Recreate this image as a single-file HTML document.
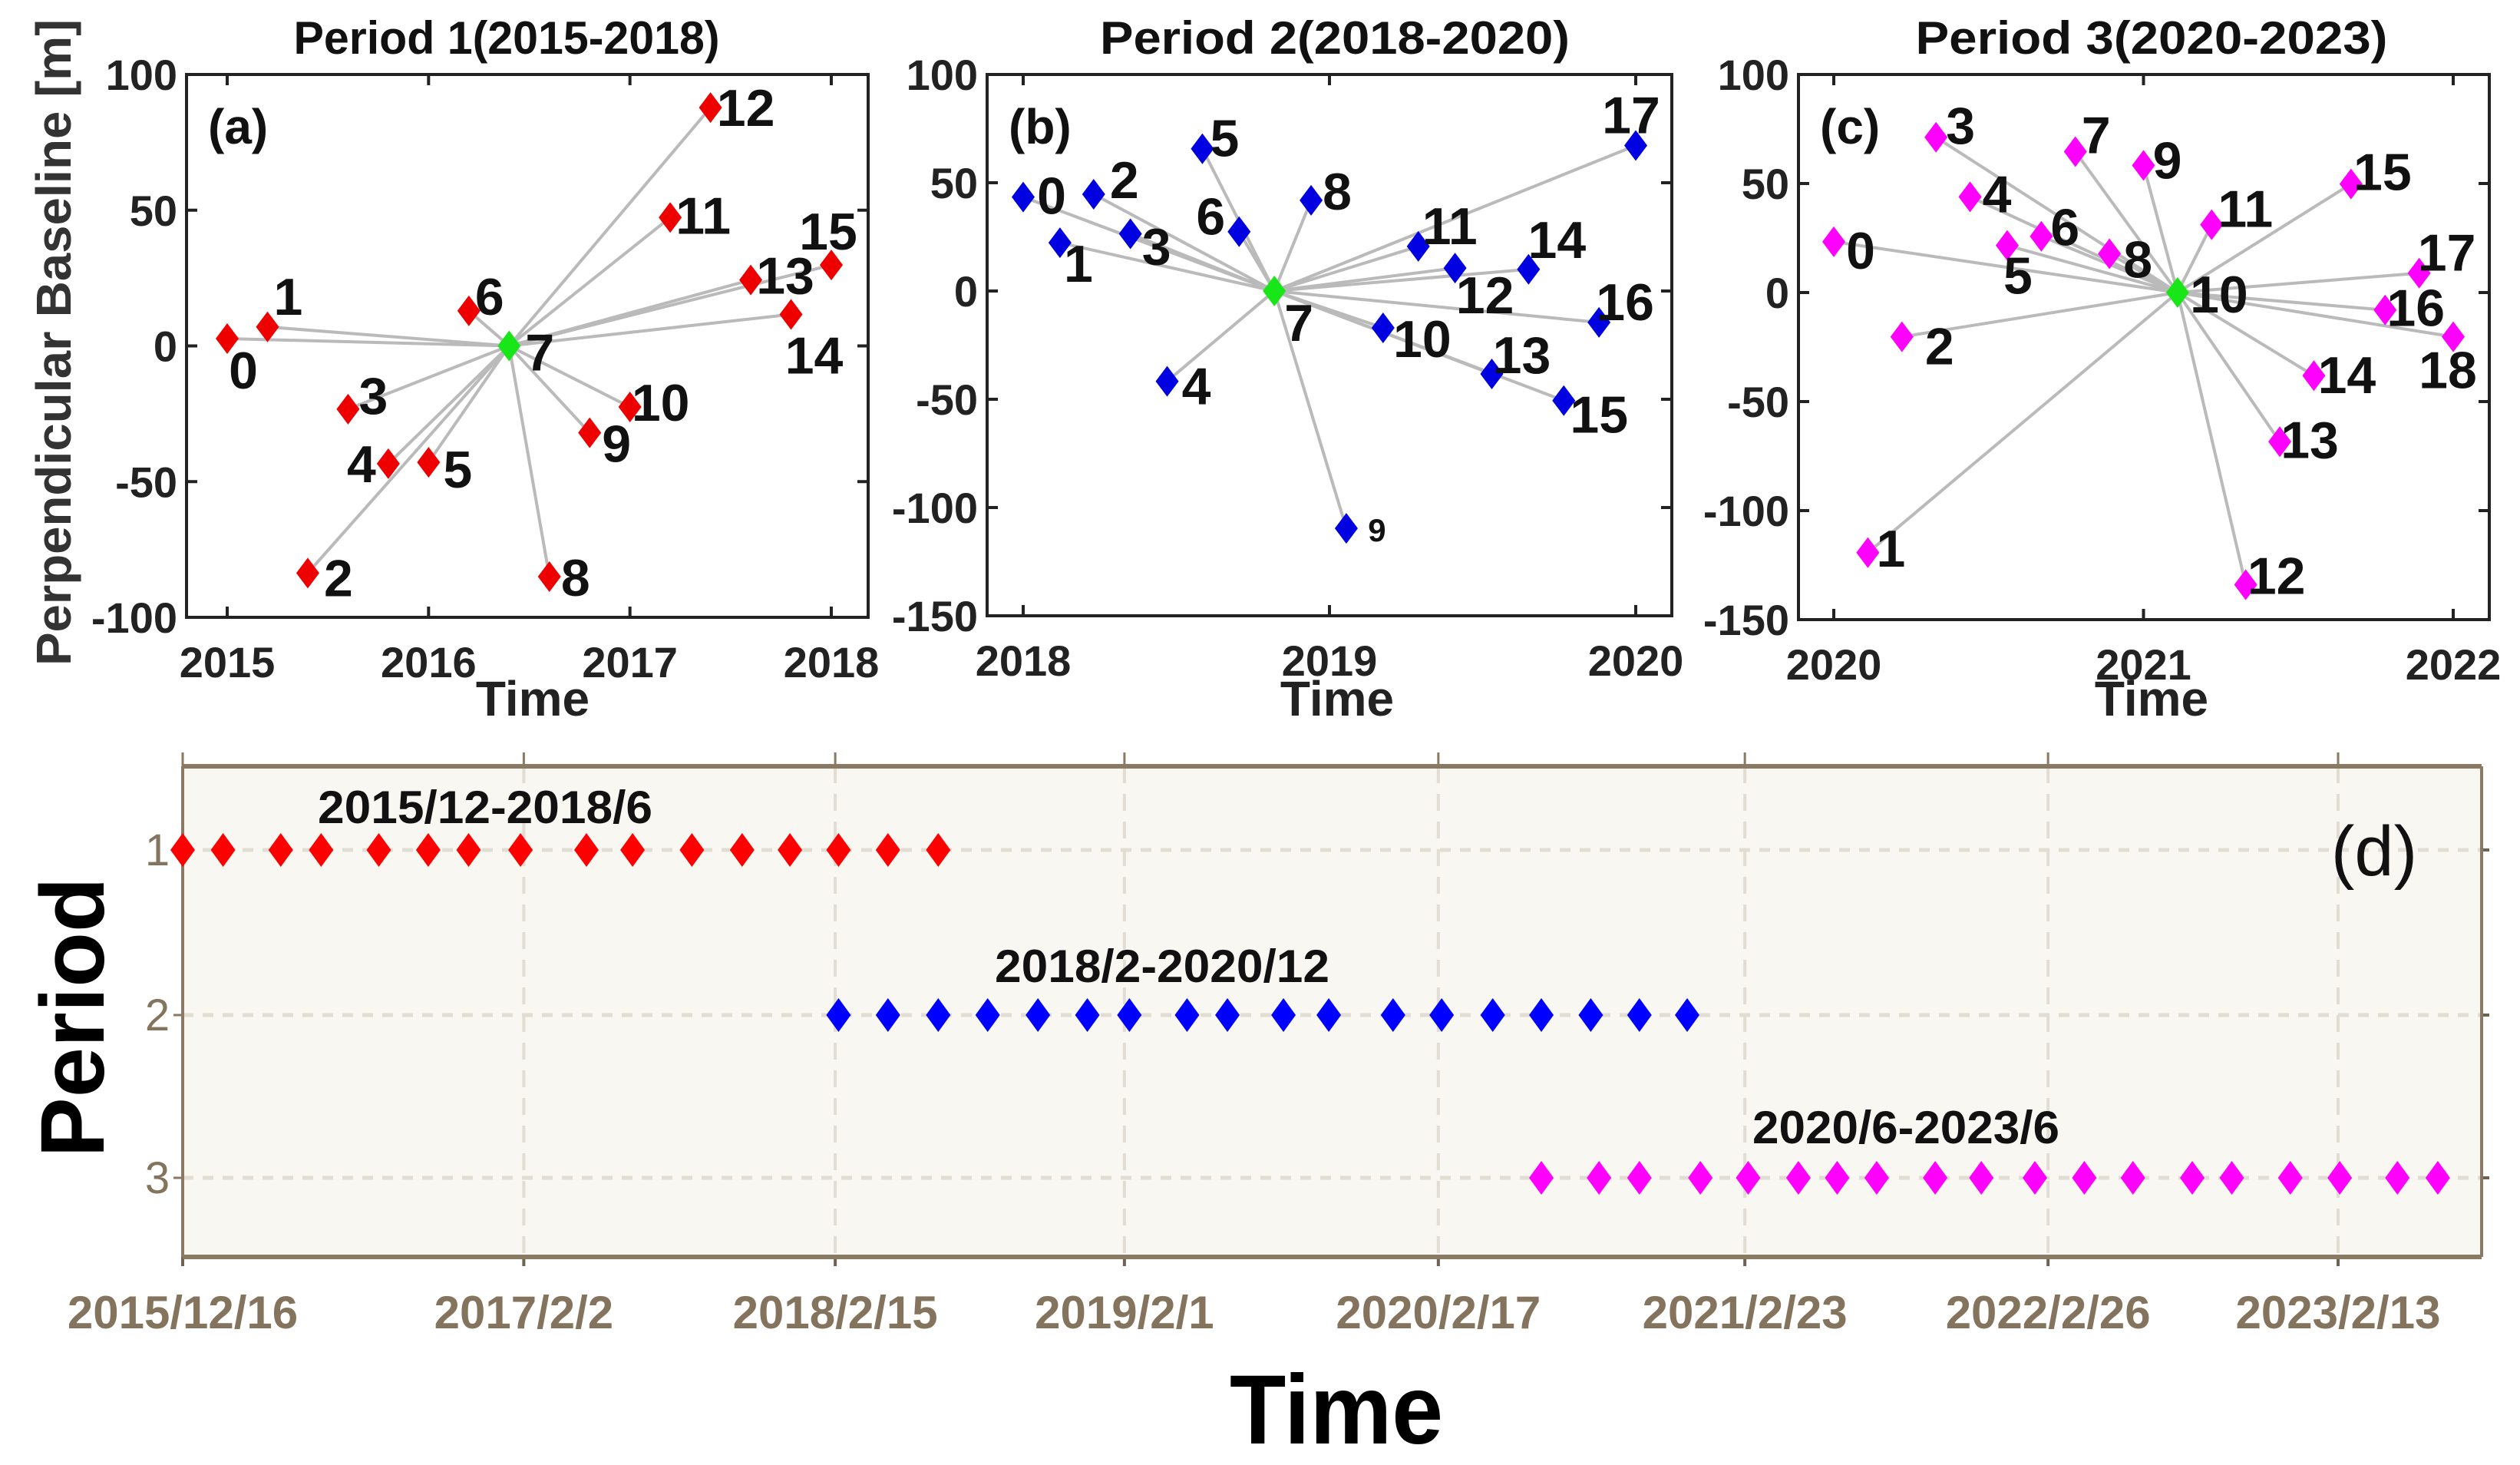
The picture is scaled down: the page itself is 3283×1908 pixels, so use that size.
<!DOCTYPE html>
<html><head><meta charset="utf-8">
<style>
html,body{margin:0;padding:0;background:#fff;}
svg{display:block;font-family:"Liberation Sans",Arial,sans-serif;}
</style></head>
<body>
<svg id="chart" width="3283" height="1908" viewBox="0 0 3283 1908" xmlns="http://www.w3.org/2000/svg"></svg>
<script>
// ---------- Panel (a) data ----------
const aYears = [2015.0,2015.2,2015.4,2015.6,2015.8,2016.0,2016.2,2016.4,2016.6,2016.8,2017.0,2017.2,2017.4,2017.6,2017.8,2018.0];
const aBaselines = [2.7,7,-83.7,-23.3,-43.4,-42.9,12.9,0,-85,-32,-22.5,47.3,87.8,24.3,11.6,29.8];
const aMaster = 7;
// ---------- Panel (b) data ----------
const bYears = [2018.0,2018.12,2018.23,2018.35,2018.47,2018.585,2018.705,2018.82,2018.94,2019.055,2019.175,2019.29,2019.41,2019.53,2019.65,2019.765,2019.88,2020.0];
const bBaselines = [43.4,22.3,44.7,26.4,-41.7,65.7,27.4,0,41.9,-109.6,-17,20.6,10.6,-38.3,10,-50.6,-14.5,67.2];
const bMaster = 7;
// ---------- Panel (c) data ----------
const cYears = [2020.0,2020.11,2020.22,2020.33,2020.44,2020.56,2020.67,2020.78,2020.89,2021.0,2021.11,2021.22,2021.33,2021.44,2021.55,2021.67,2021.78,2021.89,2022.0];
const cBaselines = [23.3,-119.3,-20.3,71.2,43.9,21.6,25.8,64.6,17.8,58.3,0,31.1,-134,-68.4,-38.1,49.8,-8,8.9,-20.3];
const cMaster = 10;
// ---------- Panel (d) data ----------
const dStartDate = "2015-12-16";
const dTickLabels = ["2015/12/16","2017/2/2","2018/2/15","2019/2/1","2020/2/17","2021/2/23","2022/2/26","2023/2/13"];
const dTickDates = ["2015-12-16","2017-02-02","2018-02-15","2019-02-01","2020-02-17","2021-02-23","2022-02-26","2023-02-13"];
const dPeriod1Days = [0,49,119,168,238,298,347,410,490,546,618,679,737,796,856,917];
const dPeriod2Days = [796,856,917,977,1038,1098,1149,1219,1268,1336,1391,1469,1528,1590,1649,1709,1768,1826];
const dPeriod3Days = [1649,1719,1768,1842,1900,1961,2008,2056,2127,2183,2248,2308,2367,2439,2487,2558,2618,2688,2737];
const dPeriodLabels = ["2015/12-2018/6","2018/2-2020/12","2020/6-2023/6"];

const NS="http://www.w3.org/2000/svg";
const svg=document.getElementById('chart');
function mk(tag,attrs,parent){const e=document.createElementNS(NS,tag);for(const k in attrs)e.setAttribute(k,attrs[k]);(parent||svg).appendChild(e);return e;}
function txt(s,attrs,parent){const e=mk('text',attrs,parent);e.textContent=s;return e;}

const aOff=[[21,41],[27,-40],[40,6],[33,-18],[-35,0],[38,9],[27,-19],[40,8],[34,1],[35,14],[40,-6],[43,-3],[46,0],[45,-6],[30,53],[-4,-44]];
const bOff=[[37,-2],[24,27],[40,-19],[34,16],[38,6],[29,-14],[-37,-20],[32,41],[34,-12],[40,2],[51,14],[41,-27],[39,35],[39,-25],[37,-39],[46,18],[34,-27],[-6,-40]];
const cOff=[[35,11],[30,-6],[49,12],[32,-16],[35,-4],[14,39],[31,-12],[27,-22],[37,7],[31,-7],[54,2],[44,-21],[40,-12],[39,-3],[43,-1],[41,-16],[40,-3],[36,-27],[-7,43]];

function panel(cfg){
  const g=mk('g',{});
  
  
  const {L,R,T,B,x0,x1,px0,px1,y0,y1}=cfg;
  const sx=v=>px0+(v-x0)/(x1-x0)*(px1-px0);
  const sy=v=>B+(v-y0)/(y1-y0)*(T-B);
  const fr=mk('rect',{x:L,y:T,width:R-L,height:B-T,fill:'#fff',stroke:'#222','stroke-width':4},g);
  
  
  for(let v=y0; v<=y1; v+=50){
    const y=sy(v);
    mk('line',{x1:L,y1:y,x2:L+14,y2:y,stroke:'#222','stroke-width':4},g);
    mk('line',{x1:R,y1:y,x2:R-14,y2:y,stroke:'#222','stroke-width':4},g);
    const t=txt(String(v),{x:L-12,y:y+20,'text-anchor':'end','font-size':56,'font-weight':'bold',fill:'#222'},g);
    
    
  }
  cfg.xticks.forEach(v=>{
    const x=sx(v);
    mk('line',{x1:x,y1:B,x2:x,y2:B-14,stroke:'#222','stroke-width':4},g);
    mk('line',{x1:x,y1:T,x2:x,y2:T+14,stroke:'#222','stroke-width':4},g);
    const t=txt(String(v),{x:x,y:B+78,'text-anchor':'middle','font-size':56,'font-weight':'bold',fill:'#222'},g);
    
    
  });
  const m=cfg.master;
  cfg.xs.forEach((v,i)=>{
    if(i===m)return;
    const ln=mk('line',{x1:sx(cfg.xs[m]),y1:sy(cfg.ys[m]),x2:sx(v),y2:sy(cfg.ys[i]),stroke:'#bababa','stroke-width':4},g);
    
    
  });
  cfg.xs.forEach((v,i)=>{
    const x=sx(v),y=sy(cfg.ys[i]);
    const isM=i===m;
    const p=mk('path',{d:`M${x} ${y-20}L${x+15} ${y}L${x} ${y+20}L${x-15} ${y}Z`,fill:isM?'#19e619':cfg.color},g);
    
    
    const o=cfg.off[i];
    const small=(cfg.small===i);
    const t=txt(String(i),{x:x+o[0],y:y+o[1]+(small?15:24),'text-anchor':'middle','font-size':small?42:68,'font-weight':'bold',fill:'#111'},g);
    
    
  });
  const pl=txt(cfg.letter,{x:L+28,y:T+90,'font-size':64,'font-weight':'bold',fill:'#111'},g);
  
  
  const ti=txt(cfg.title,{x:cfg.titleX,y:70,'text-anchor':'middle','font-size':60,'font-weight':'bold',fill:'#111',textLength:cfg.titleW,lengthAdjust:'spacingAndGlyphs'},g);
  
  
  const xt=txt('Time',{x:cfg.timeX,y:932,'text-anchor':'middle','font-size':64,'font-weight':'bold',fill:'#222'},g);
  
  
}

panel({name:'panel-a',L:243,R:1131,T:97,B:804,x0:2015,x1:2018,px0:296,px1:1083,y0:-100,y1:100,xticks:[2015,2016,2017,2018],xs:aYears,ys:aBaselines,master:aMaster,color:'#ee0000',off:aOff,letter:'(a)',title:'Period 1(2015-2018)',titleX:660,titleW:555,timeX:694});
panel({name:'panel-b',L:1286,R:2178,T:97,B:802,x0:2018,x1:2020,px0:1333,px1:2131,y0:-150,y1:100,xticks:[2018,2019,2020],xs:bYears,ys:bBaselines,master:bMaster,color:'#0000e0',off:bOff,small:9,letter:'(b)',title:'Period 2(2018-2020)',titleX:1739,titleW:612,timeX:1742});
panel({name:'panel-c',L:2343,R:3243,T:97,B:807,x0:2020,x1:2022,px0:2389,px1:3196,y0:-150,y1:100,xticks:[2020,2021,2022],xs:cYears,ys:cBaselines,master:cMaster,color:'#ff00ff',off:cOff,letter:'(c)',title:'Period 3(2020-2023)',titleX:2803,titleW:615,timeX:2803});

const yt=txt('Perpendicular Baseline [m]',{x:0,y:0,transform:'translate(92,446) rotate(-90)','text-anchor':'middle','font-size':64,'font-weight':'bold',fill:'#333',textLength:842,lengthAdjust:'spacingAndGlyphs'});



(function(){
  const g=mk('g',{});
  
  
  const L=238,R=3233,T=998,B=1637;
  const base=Date.parse(dStartDate);
  const pxPerDay=(3046-238)/((Date.parse("2023-02-13")-base)/86400000);
  const sx=d=>L+d*pxPerDay;
  const rowY=[1107,1322,1534];
  const bg=mk('rect',{x:L,y:T,width:R-L,height:B-T,fill:'#f9f7f2'},g);
  
  
  dTickDates.forEach((ds,i)=>{
    const x=sx((Date.parse(ds)-base)/86400000);
    mk('line',{x1:x,y1:T,x2:x,y2:B,stroke:'#e2ddd3','stroke-width':4,'stroke-dasharray':'22 14'},g);
    mk('line',{x1:x,y1:T-18,x2:x,y2:T,stroke:'#8a7a63','stroke-width':3},g);
    mk('line',{x1:x,y1:B,x2:x,y2:B+12,stroke:'#6e6250','stroke-width':4},g);
    const t=txt(dTickLabels[i],{x:x,y:1730,'text-anchor':'middle','font-size':60,'font-weight':'bold',fill:'#85745d'},g);
    
    
  });
  rowY.forEach((y,i)=>{
    mk('line',{x1:L,y1:y,x2:R,y2:y,stroke:'#e2ddd3','stroke-width':5,'stroke-dasharray':'14 12'},g);
    mk('line',{x1:L-12,y1:y,x2:L,y2:y,stroke:'#8a7a63','stroke-width':3},g);
    mk('line',{x1:R,y1:y,x2:R+10,y2:y,stroke:'#6e6250','stroke-width':4},g);
    const t=txt(String(i+1),{x:205,y:y+20,'text-anchor':'middle','font-size':58,fill:'#85745d'},g);
    
    
  });
  mk('line',{x1:L,y1:T,x2:R,y2:T,stroke:'#8a7a63','stroke-width':6},g);
  mk('line',{x1:L,y1:B,x2:R,y2:B,stroke:'#8a7a63','stroke-width':6},g);
  mk('line',{x1:L,y1:T,x2:L,y2:B,stroke:'#8a7a63','stroke-width':4},g);
  mk('line',{x1:R,y1:T,x2:R,y2:B,stroke:'#8a7a63','stroke-width':4},g);
  const series=[[dPeriod1Days,'#ff0000'],[dPeriod2Days,'#0000ff'],[dPeriod3Days,'#ff00ff']];
  series.forEach(([days,col],r)=>{
    const y=rowY[r];
    days.forEach(d=>{
      const x=sx(d);
      const p=mk('path',{d:`M${x} ${y-22}L${x+16} ${y}L${x} ${y+22}L${x-16} ${y}Z`,fill:col},g);
      
      
    });
  });
  const lab=[[632,1072,436],[1514,1279,436],[2483,1489,400]];
  dPeriodLabels.forEach((s,i)=>{
    const t=txt(s,{x:lab[i][0],y:lab[i][1],'text-anchor':'middle','font-size':60,'font-weight':'bold',fill:'#111',textLength:lab[i][2],lengthAdjust:'spacingAndGlyphs'},g);
    
    
  });
  const dl=txt('(d)',{x:3093,y:1140,'text-anchor':'middle','font-size':92,fill:'#111'},g);
  
  
  const pt=txt('Period',{x:0,y:0,transform:'translate(135,1325) rotate(-90)','text-anchor':'middle','font-size':118,'font-weight':'bold',fill:'#000',textLength:365,lengthAdjust:'spacingAndGlyphs'},g);
  
  
  const tt=txt('Time',{x:1741,y:1880,'text-anchor':'middle','font-size':128,'font-weight':'bold',fill:'#000',textLength:278,lengthAdjust:'spacingAndGlyphs'},g);
  
  
})();
</script>
</body></html>
